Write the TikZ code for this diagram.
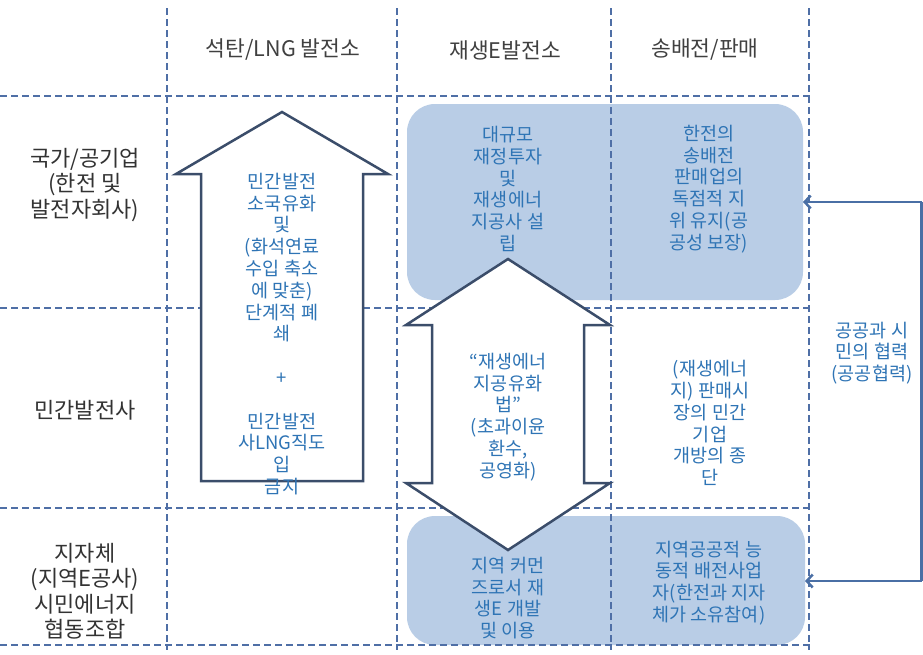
\documentclass[tikz,border=0pt]{standalone}
\usepackage{fontspec}
\setmainfont{Noto Sans CJK KR}
\usetikzlibrary{arrows.meta}
\definecolor{gridblue}{HTML}{4F6FA6}
\definecolor{boxblue}{HTML}{B9CDE6}
\definecolor{txtblue}{HTML}{2E74B5}
\definecolor{arrowdark}{HTML}{3B4D6A}
\definecolor{connblue}{HTML}{4A6FA5}
\definecolor{hdr}{HTML}{404040}
\begin{document}
\begin{tikzpicture}[x=1pt,y=-1pt,
  gridline/.style={gridblue, line width=1.8pt, dash pattern=on 7pt off 4pt},
  bluebox/.style={fill=boxblue, rounded corners=28pt},
  bigarrow/.style={draw=arrowdark, fill=white, line width=2.5pt, line join=miter},
  intext/.style={text=txtblue, align=center, font=\fontsize{18.5}{21.8}\selectfont, inner sep=0pt},
  headtext/.style={text=hdr, font=\fontsize{21.5}{24}\selectfont, inner sep=0pt},
  rowlab/.style={text=black!80, align=center, font=\fontsize{22}{25.5}\selectfont, inner sep=0pt},
  connline/.style={connblue, line width=2.5pt},
  link/.style={connline, -{Straight Barb[length=6pt,width=13pt]}}]
\fill[white] (0,0) rectangle (923,654);
\useasboundingbox (0,0) rectangle (923,654);

% blue boxes
\fill[bluebox] (407,104) rectangle (803,300);
\fill[bluebox] (407,516) rectangle (805,645);

% grid
\foreach \yy in {96,308,508,645} \draw[gridline] (0,\yy) -- (810,\yy);
\foreach \xx in {167,397,611,809} \draw[gridline] (\xx,8) -- (\xx,650);

% left up arrow
\draw[bigarrow] (282,112) -- (388,174) -- (363,174) -- (363,481) -- (201,481) -- (201,174) -- (176,174) -- cycle;
% middle double arrow
\draw[bigarrow] (508,259) -- (610,325) -- (584,325) -- (584,483) -- (610,483) -- (508,550)
  -- (406,483) -- (432,483) -- (432,325) -- (406,325) -- cycle;

% headers
\node[headtext] (h1) at (283,50) {석탄/LNG 발전소};
\node[headtext] (h2) at (505,50) {재생E발전소};
\node[headtext] (h3) at (705,50) {송배전/판매};

% row labels
\node[rowlab] (r1) at (85,185) {국가/공기업\\(한전 및\\발전자회사)};
\node[rowlab] (r2) at (85,410) {민간발전사};
\node[rowlab] (r3) at (85,591) {지자체\\(지역E공사)\\시민에너지\\협동조합};

% cell texts
\node[intext] (a1) at (282,334) {민간발전\\소국유화\\및\\(화석연료\\수입 축소\\에 맞춘)\\단계적 폐\\쇄\\ \\+\\ \\민간발전\\사LNG직도\\입\\금지};
\node[intext] (b1) at (508,189) {대규모\\재정투자\\및\\재생에너\\지공사 설\\립};
\node[intext] (c1) at (709,189) {한전의\\송배전\\판매업의\\독점적 지\\위 유지(공\\공성 보장)};
\node[intext] (b2) at (508,417) {“재생에너\\지공유화\\법”\\(초과이윤\\환수,\\공영화)};
\node[intext] (c2) at (710,423) {(재생에너\\지) 판매시\\장의 민간\\기업\\개방의 종\\단};
\node[intext] (b3) at (508,598) {지역 커먼\\즈로서 재\\생E 개발\\및 이용};
\node[intext] (c3) at (709,583) {지역공공적 능\\동적 배전사업\\자(한전과 지자\\체가 소유참여)};
\node[intext] (d1) at (872,353) {공공과 시\\민의 협력\\(공공협력)};

% connectors on the right
\coordinate (e1) at (921.5,202);
\coordinate (e2) at (921.5,581);
\coordinate (t1) at (803,202);
\coordinate (t2) at (805,581);
\draw[connline] (e1) -- (e2);
\draw[link] (e1) -- (t1);
\draw[link] (e2) -- (t2);
\end{tikzpicture}
\end{document}
